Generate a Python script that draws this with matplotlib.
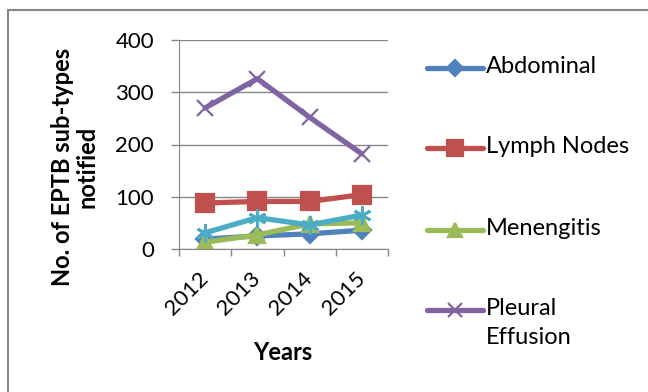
import matplotlib.pyplot as plt
from matplotlib.lines import Line2D
from matplotlib.patches import Rectangle

years = ["2012", "2013", "2014", "2015"]
abdominal = [19, 25, 29, 36]
lymph_nodes = [88, 91, 91, 104]
menengitis = [13, 27, 48, 50]
pleural_effusion = [270, 326, 252, 182]
other = [31, 60, 46, 65]

plt.rcParams["font.family"] = ["Lato", "DejaVu Sans"]

W, H = 648, 392
fig = plt.figure(figsize=(W / 100, H / 100), dpi=100)
ax = fig.add_axes([179 / W, 1 - 249 / H, 209 / W, 209 / H])

x = range(len(years))
series = [
    ("Abdominal", abdominal, "#4F81BD", "D", 9, 8),
    ("Lymph Nodes", lymph_nodes, "#C0504D", "s", 13, 11),
    ("Menengitis", menengitis, "#9BBB59", "^", 12, 10),
    ("Pleural\nEffusion", pleural_effusion, "#8064A2", "x", 12, 10),
]
for label, vals, color, marker, ms, _ in series:
    ax.plot(x, vals, color=color, lw=3.8, marker=marker, ms=ms,
            mew=1.6, solid_capstyle="round")
# fifth series, not listed in the legend
ax.plot(x, other, color="#4BACC6", lw=3.8, marker=(6, 2, 0), ms=13, mew=2,
        solid_capstyle="round")

grid = "#868686"
ax.set_xlim(-0.5, 3.5)
ax.set_ylim(0, 400)
ax.set_yticks([0, 100, 200, 300, 400])
ax.yaxis.grid(True, color=grid, lw=1)
ax.set_axisbelow(True)
ax.set_xticks([-0.5, 0.5, 1.5, 2.5, 3.5])
ax.set_xticklabels([])
ax.set_xticks(list(x), minor=True)
ax.set_xticklabels(years, minor=True, rotation=45, ha="right", va="center",
                   rotation_mode="anchor", fontsize=16)
ax.tick_params(axis="x", which="minor", length=0, pad=19)
ax.tick_params(axis="x", which="major", length=5, color=grid, width=1)
ax.tick_params(axis="y", length=6, color=grid, width=1, labelsize=16, pad=12)
for side in ["top", "right"]:
    ax.spines[side].set_visible(False)
for side in ["left", "bottom"]:
    ax.spines[side].set_color(grid)

fig.text(75 / W, 1 - 167 / H, "No. of EPTB sub-types\nnotified",
         rotation=90, ha="center", va="center", fontsize=17,
         fontweight="bold", multialignment="center", linespacing=1.1)
fig.text(283 / W, 1 - 353 / H, "Years", ha="center", va="center",
         fontsize=17, fontweight="bold")

# legend entries, one row per named series
rows_y = [68, 148, 230, 310]
for (label, _, color, marker, _, lms), ry in zip(series, rows_y):
    yf = 1 - ry / H
    fig.add_artist(Line2D([427 / W, 483 / W], [yf, yf], color=color, lw=3.8,
                          solid_capstyle="round", transform=fig.transFigure))
    fig.add_artist(Line2D([455 / W], [yf], color=color, marker=marker,
                          ms=lms, mew=1.6, transform=fig.transFigure))
    fig.text(486 / W, yf + 12 / H, label, ha="left", va="top", fontsize=17,
             linespacing=1.45, transform=fig.transFigure)

fig.patches.append(Rectangle((8 / W, -0.1), 1.2, 1 - 10 / H + 0.1,
                             transform=fig.transFigure, fill=False,
                             edgecolor="#888888", lw=1.5))

fig.savefig("out.png", dpi=100)
